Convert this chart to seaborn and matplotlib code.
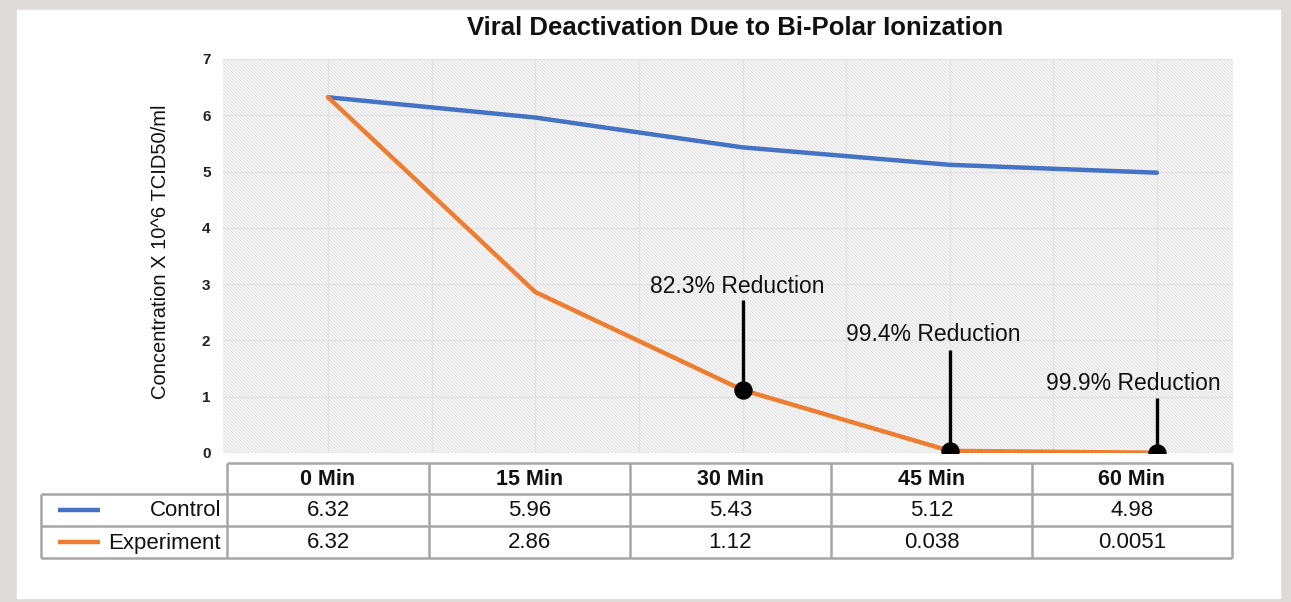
import matplotlib
matplotlib.use("Agg")
import matplotlib.pyplot as plt
from matplotlib.patches import Rectangle
import seaborn as sns
import pandas as pd
import numpy as np

# data
times = ["0 Min", "15 Min", "30 Min", "45 Min", "60 Min"]
control = [6.32, 5.96, 5.43, 5.12, 4.98]
experiment = [6.32, 2.86, 1.12, 0.038, 0.0051]
control_labels = ["6.32", "5.96", "5.43", "5.12", "4.98"]
experiment_labels = ["6.32", "2.86", "1.12", "0.038", "0.0051"]
series = ["Control", "Experiment"]
colors = ["#4472C4", "#ED7D31"]

notes = ["82.3% Reduction", "99.4% Reduction", "99.9% Reduction"]
note_idx = [2, 3, 4]
note_top = [2.72, 1.83, 0.98]
note_text_y = [2.95, 2.11, 1.23]
note_text_dx = [-0.025, -0.08, -0.115]

sns.set_theme(style="white")
plt.rcParams['font.family'] = ['Liberation Sans', 'DejaVu Sans']
plt.rcParams['hatch.linewidth'] = 0.5

W, H = 1291, 602
fig = plt.figure(figsize=(W / 100, H / 100), dpi=100)

# background frame + table live on a pixel-coordinate overlay
bg = fig.add_axes([0, 0, 1, 1], zorder=0)
bg.set_xlim(0, W)
bg.set_ylim(H, 0)
bg.axis('off')
bg.add_patch(Rectangle((0, 0), W, H, color='#dedada'))
bg.add_patch(Rectangle((17, 10), 1263, 588, color='white'))

bg.text(735, 28, "Viral Deactivation Due to Bi-Polar Ionization", ha='center', va='center',
        fontsize=18.5, fontweight='bold', color='#111111')
bg.text(161, 252, "Concentration X 10^6 TCID50/ml", ha='center', va='center',
        rotation=90, fontsize=14.5, color='#111111')

# main plot
ax = fig.add_axes([223 / W, 149 / H, 1010 / W, 394 / H], zorder=1)
ax.add_patch(Rectangle((0, 0), 1, 1, transform=ax.transAxes, facecolor='#f7f7f7',
                       edgecolor='#dcdcdc', hatch='\\' * 10, linewidth=0, zorder=0))

df = pd.DataFrame({
    "pos": list(range(len(times))) * 2,
    "value": control + experiment,
    "series": [series[0]] * len(times) + [series[1]] * len(times),
})
sns.lineplot(data=df, x="pos", y="value", hue="series", palette=colors,
             linewidth=3.2, legend=False, ax=ax, zorder=3)

dot_y = [experiment[i] for i in note_idx]
ax.vlines(note_idx, dot_y, note_top, color='black', linewidth=2.4, zorder=4)
sns.scatterplot(x=note_idx, y=dot_y, color='black', s=150, edgecolor='black', zorder=5, ax=ax)
for i, txt, ty, dx in zip(note_idx, notes, note_text_y, note_text_dx):
    ax.text(i + dx, ty, txt, ha='center', va='center', fontsize=16.5, color='#111111', zorder=6)

ax.set_xlim(-0.507, 4.367)
ax.set_ylim(0, 7)
ax.set_xticks(np.arange(0, 4.01, 0.5))
ax.set_xticklabels([])
ax.set_yticks(range(8))
ax.set_yticklabels([str(v) for v in range(8)], fontsize=11, fontweight='bold', color='#222222')
ax.tick_params(axis='both', length=0)
ax.tick_params(axis='y', pad=9)
ax.set_xlabel("")
ax.set_ylabel("")
ax.set_axisbelow(True)
ax.grid(True, color='#e3e3e3', linewidth=1)
ax.set_facecolor('white')
for s in ax.spines.values():
    s.set_visible(False)

# data table under the plot
col_edges = [227, 429, 630, 831, 1032, 1232]
row_edges = [463, 494, 526, 558]
label_left = 41
bc = '#a6a6a6'
blw = 1.8
bg.hlines(row_edges[0], col_edges[0], col_edges[-1], color=bc, linewidth=blw)
bg.hlines(row_edges[1:], label_left, col_edges[-1], color=bc, linewidth=blw)
bg.vlines(label_left, row_edges[1], row_edges[-1], color=bc, linewidth=blw)
bg.vlines(col_edges, row_edges[0], row_edges[-1], color=bc, linewidth=blw)

centers = [(a + b) / 2 for a, b in zip(col_edges[:-1], col_edges[1:])]
row_mid = [(a + b) / 2 for a, b in zip(row_edges[:-1], row_edges[1:])]
for cx, t in zip(centers, times):
    bg.text(cx, row_mid[0] + 1, t, ha='center', va='center', fontsize=15.5,
            fontweight='bold', color='#111111')
for r, labels in enumerate([control_labels, experiment_labels]):
    for cx, t in zip(centers, labels):
        bg.text(cx, row_mid[r + 1] + 1, t, ha='center', va='center', fontsize=16, color='#111111')
    bg.plot([58, 100], [row_mid[r + 1], row_mid[r + 1]], color=colors[r], linewidth=3.2,
            solid_capstyle='butt')
    bg.text(221, row_mid[r + 1] + 1, series[r], ha='right', va='center', fontsize=16, color='#111111')

fig.savefig("out.png", dpi=100)
